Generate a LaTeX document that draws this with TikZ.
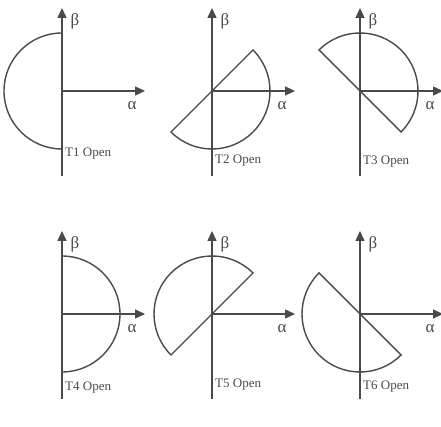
\documentclass[tikz,border=0pt]{standalone}
\usepackage{fontspec}
\setmainfont{Liberation Serif}
\usepackage{tikz}
\usetikzlibrary{arrows.meta,calc,positioning}
\definecolor{ink}{HTML}{4A4A4A}

\tikzset{
  axis/.style={line width=1.4pt,ink,-{Triangle[length=10pt,width=9pt]}},
  sector/.style={line width=1.4pt,ink},
  axlabel/.style={font=\fontsize{17}{17}\selectfont,text=ink,inner sep=0pt},
  openlabel/.style={font=\fontsize{13}{13}\selectfont,text=ink,inner sep=0pt,anchor=west}
}

\begin{document}
\begin{tikzpicture}[x=1pt,y=1pt]
  \useasboundingbox (0,0) rectangle (441,427);
  % one panel per switch: centre x/y, start angle of the half disc, index, label drop
  \foreach \cx/\cy/\s/\k/\ty in {62/336/90/1/-63, 212/336/225/2/-70, 360/336/-45/3/-71,
                                  62/113/-90/4/-74, 212/113/45/5/-71, 360/113/135/6/-73} {
    \coordinate (o\k) at (\cx,\cy);
    \coordinate (b\k) at ($(o\k)+(0,83)$);
    \coordinate (d\k) at ($(o\k)+(0,-85)$);
    \coordinate (a\k) at ($(o\k)+(83,0)$);
    \draw[sector] (o\k) ++(\s:58) arc[start angle=\s, end angle=\s+180, radius=58] -- cycle;
    \draw[axis] (d\k) -- (b\k);
    \draw[axis] (o\k) -- (a\k);
    \node[axlabel] (beta\k) at ($(o\k)+(13,70)$) {β};
    \node[axlabel] (alpha\k) at ($(o\k)+(70,-15)$) {α};
    \node[openlabel] (t\k) at ($(o\k)+(3,\ty)$) {T\k{} Open};
  }
\end{tikzpicture}
\end{document}
